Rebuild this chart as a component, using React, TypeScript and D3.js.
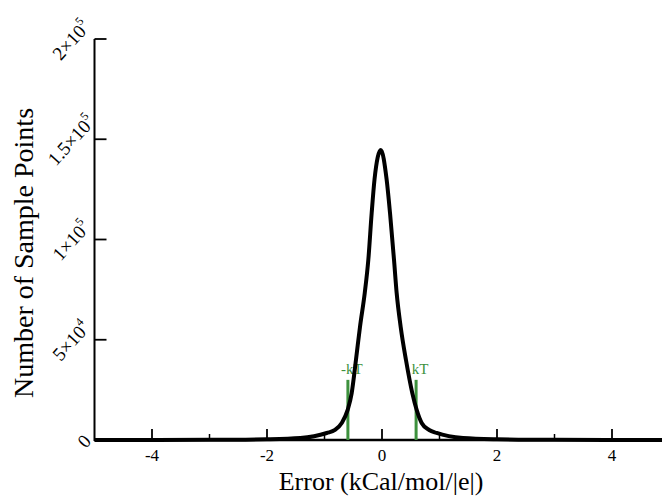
import React from "react";
import * as d3 from "d3";

// error values (kcal/mol/|e|) and number of sample points
const errorX = [-5, -3, -2, -1.42, -0.96, -0.817, -0.7, -0.597, -0.527, -0.453, -0.383, -0.3, -0.238, -0.18, -0.13, -0.02,
  0.08, 0.14, 0.209, 0.255, 0.325, 0.417, 0.527, 0.603, 0.69, 0.82, 0.95, 1.41, 2, 3, 5];
const sampleCounts = [0, 100, 400, 1000, 3500, 5000, 8500, 15000, 23400, 39900, 56400, 73300, 89800, 113000, 130000, 144600,
  130000, 113000, 89800, 73300, 56400, 39900, 23400, 15000, 8500, 5000, 3500, 1000, 400, 100, 0];

const xMajorTicks = [-4, -2, 0, 2, 4];
const xMinorTicks = [-3, -1, 1, 3];
const yTicks = [0, 50000, 100000, 150000, 200000];
const yTickMantissa = ["0", "5", "1", "1.5", "2"];
const yTickExp = ["", "4", "5", "5", "5"];

const kT = 0.593;
const kTHeight = 30000;
const markers = [
  { x: -kT, label: "-kT" },
  { x: kT, label: "kT" },
];

const W = 662;
const H = 496;
const serif = "'Liberation Serif', 'Times New Roman', serif";
const green = "#3d913d";

export default function App() {
  const x = d3.scaleLinear().domain([-5, 5]).range([94.5, 669.5]);
  const y = d3.scaleLinear().domain([0, 200000]).range([440, 39]);

  const pts = errorX.map((e, i) => [e, sampleCounts[i]] as [number, number]);
  const line = d3
    .line<[number, number]>()
    .x((d) => x(d[0]))
    .y((d) => y(d[1]))
    .curve(d3.curveMonotoneX);

  return (
    <svg
      width={W}
      height={H}
      style={{ position: "absolute", left: 0, top: 0, background: "#fff" }}
      fontFamily={serif}
    >
      {/* axes */}
      <line x1={x(-5)} x2={W} y1={y(0)} y2={y(0)} stroke="#000" strokeWidth={2.5} />
      <line x1={x(-5)} x2={x(-5)} y1={y(200000)} y2={y(0) + 1} stroke="#000" strokeWidth={2} />

      {xMajorTicks.map((t) => (
        <g key={"xt" + t}>
          <line x1={x(t)} x2={x(t)} y1={y(0)} y2={y(0) - 11} stroke="#000" strokeWidth={1.8} />
          <text x={x(t)} y={461} textAnchor="middle" fontSize={17}>
            {t}
          </text>
        </g>
      ))}
      {xMinorTicks.map((t) => (
        <line key={"xm" + t} x1={x(t)} x2={x(t)} y1={y(0)} y2={y(0) - 6} stroke="#000" strokeWidth={1.5} />
      ))}

      {yTicks.map((t, i) => {
        const cx = yTickExp[i] ? 71 : 84;
        return (
          <g key={"yt" + t}>
            <line x1={x(-5)} x2={x(-5) + 12} y1={y(t)} y2={y(t)} stroke="#000" strokeWidth={1.8} />
            <text
              transform={`translate(${cx},${y(t) + 1}) rotate(-48)`}
              textAnchor="middle"
              dy="0.35em"
              fontSize={19}
            >
              {yTickMantissa[i]}
              {yTickExp[i] && (
                <>
                  {"\u00d710"}
                  <tspan fontSize={12} dy="-0.75em">
                    {yTickExp[i]}
                  </tspan>
                </>
              )}
            </text>
          </g>
        );
      })}

      {/* kT markers */}
      {markers.map((m) => (
        <g key={m.label}>
          <line x1={x(m.x)} x2={x(m.x)} y1={y(0)} y2={y(kTHeight)} stroke={green} strokeWidth={3} />
          <text x={x(m.x) + 4} y={374} textAnchor="middle" fontSize={15} fill={green}>
            {m.label}
          </text>
        </g>
      ))}

      {/* distribution */}
      <path d={line(pts) || ""} fill="none" stroke="#000" strokeWidth={4} strokeLinejoin="round" />

      {/* titles */}
      <text x={381} y={490} textAnchor="middle" fontSize={26}>
        Error (kCal/mol/|e|)
      </text>
      <text transform="translate(33,253) rotate(-90)" textAnchor="middle" fontSize={28}>
        Number of Sample Points
      </text>
    </svg>
  );
}
